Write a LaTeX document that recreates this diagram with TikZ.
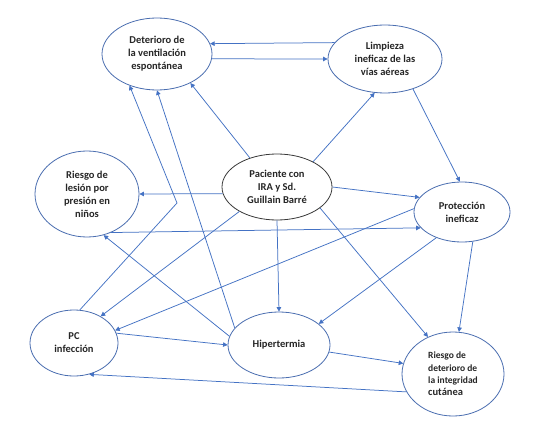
\documentclass[tikz,border=0pt]{standalone}
\usepackage{fontspec}
\setmainfont{Carlito}
\usetikzlibrary{shapes.geometric,arrows.meta}
\definecolor{lineblue}{HTML}{4472C4}
\definecolor{edgeblue}{HTML}{4A6EB0}
\definecolor{darkedge}{HTML}{3A3A3A}
\begin{document}
\begin{tikzpicture}[x=1pt,y=-1pt,
  ell/.style={ellipse, draw=edgeblue, line width=0.8pt, inner sep=0pt, align=center,
    font=\bfseries\fontsize{10.5}{13}\selectfont, text=black!85},
  conn/.style={draw=lineblue, line width=0.75pt, -{Triangle[length=4.5pt,width=4.5pt]}}]
\useasboundingbox (0,0) rectangle (537,425);
\fill[white] (0,0) rectangle (537,425);
\node[ell, minimum width=110pt, minimum height=72pt] (D) at (157,54) {Deterioro de\\la ventilación\\espontánea};
\node[ell, minimum width=114pt, minimum height=68pt] (L) at (385,59) {Limpieza\\ineficaz de las\\vías aéreas};
\node[ell, minimum width=104pt, minimum height=86pt] (R) at (87,194) {Riesgo de\\lesión por\\presión en\\niños};
\node[ell, draw=darkedge, minimum width=110pt, minimum height=66pt] (P) at (277,187) {Paciente con\\IRA y Sd.\\Guillain Barré};
\node[ell, minimum width=96pt, minimum height=60pt] (Pr) at (462,212) {Protección\\ineficaz};
\node[ell, minimum width=88pt, minimum height=66pt] (C) at (74,343) {PC\\infección};
\node[ell, minimum width=102pt, minimum height=66pt] (H) at (279,345) {Hipertermia};
\node[ell, minimum width=102pt, minimum height=84pt, align=left, font=\bfseries\fontsize{9.5}{12.3}\selectfont] (I) at (453,374) {Riesgo de\\deterioro de\\la integridad\\{\fontsize{10.5}{12.3}\selectfont cutánea}};
\coordinate (b1) at (177,203);
\draw[conn] (L.162) -- (D.11);
\draw[conn] (D.355) -- (L.180);
\draw[conn] (P.133) -- (D.319);
\draw[conn] (C.80) -- (b1) -- (D.229);
\draw[conn] (H.159) -- (D.270);
\draw[conn] (P.187) -- (R.0);
\draw[conn] (P.35) -- (L.253);
\draw[conn] (L.313) -- (Pr.94);
\draw[conn] (P.0) -- (Pr.161);
\draw[conn] (R.302) -- (Pr.201);
\draw[conn] (Pr.176) -- (C.17);
\draw[conn] (P.213) -- (C.45);
\draw[conn] (P.270) -- (H.90);
\draw[conn] (P.334) -- (I.124);
\draw[conn] (Pr.225) -- (H.28);
\draw[conn] (Pr.290) -- (I.82);
\draw[conn] (H.170) -- (R.292);
\draw[conn] (C.13) -- (H.180);
\draw[conn] (H.352) -- (I.168);
\draw[conn] (I.201) -- (C.296);
\end{tikzpicture}
\end{document}
